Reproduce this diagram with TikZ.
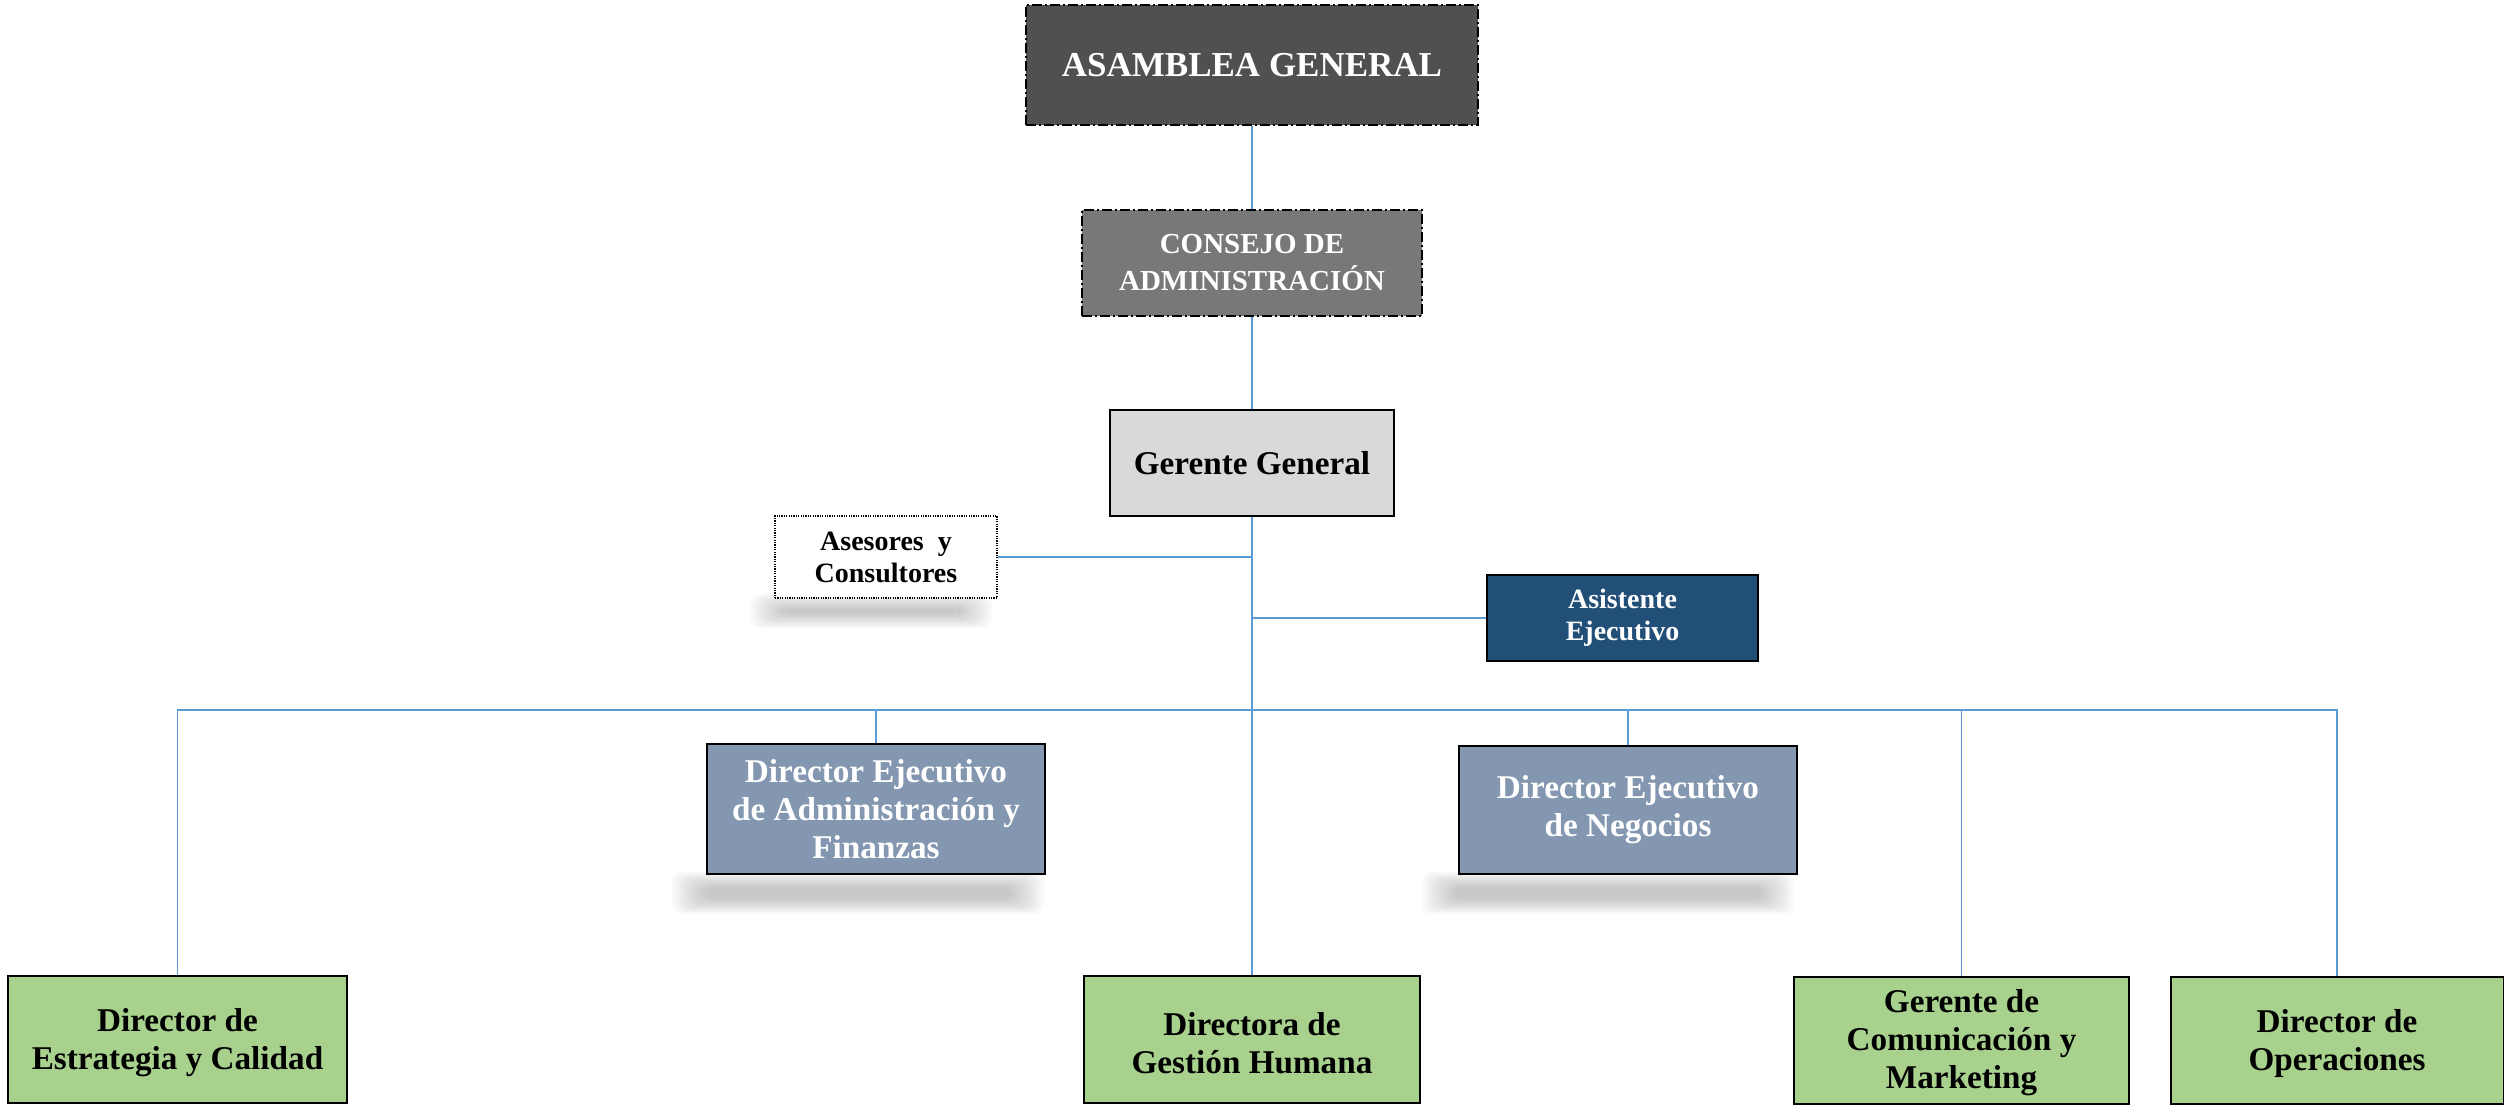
\documentclass[tikz,border=0pt]{standalone}
\usepackage{fontspec}
\setmainfont{Liberation Serif}
\definecolor{lineblue}{HTML}{5B9BD5}
\definecolor{agfill}{HTML}{505050}
\definecolor{cafill}{HTML}{787878}
\definecolor{ggfill}{HTML}{D9D9D9}
\definecolor{asfill}{HTML}{214F78}
\definecolor{defill}{HTML}{8497B0}
\definecolor{grfill}{HTML}{A9D18E}
\newcommand\softdrop[4]{%
  \foreach \k in {0,...,9}{%
    \fill[black,opacity=0.022,rounded corners=5pt] ({#1+\k*3.5},{#2+\k*1.6}) rectangle ({#3-\k*3.5},{#4-\k*1.6});}}
\begin{document}
\begin{tikzpicture}[x=0.5pt,y=-0.5pt,
  box/.style={draw=black, line width=1pt, inner sep=0pt, align=center},
  dashdotbox/.style={box, dash pattern=on 5pt off 1.5pt on 1pt off 1.5pt},
  dotbox/.style={box, line width=0.6pt, dash pattern=on 0.6pt off 0.6pt},
  conn/.style={draw=lineblue, line width=0.8pt},
  bigtxt/.style={font=\bfseries\fontsize{16.6}{19}\selectfont},
  smalltxt/.style={font=\bfseries\fontsize{14}{16}\selectfont},
  greenbox/.style={box, fill=grfill, bigtxt, minimum width=168pt, minimum height=63.5pt},
  bluebox/.style={box, fill=defill, text=white, bigtxt, minimum width=169pt, minimum height=65pt}
]
\useasboundingbox (0,0) rectangle (2504,1104);

% shadows
\softdrop{750}{594}{992}{628}
\softdrop{672}{872}{1044}{914}
\softdrop{1422}{872}{1794}{914}

% nodes
\node[dashdotbox, fill=agfill, text=white, minimum width=226pt, minimum height=60pt,
      font=\bfseries\fontsize{17.5}{20}\selectfont] (ag) at (1252,65) {ASAMBLEA GENERAL};
\node[dashdotbox, fill=cafill, text=white, minimum width=170pt, minimum height=53pt,
      font=\bfseries\fontsize{14.5}{18.5}\selectfont] (ca) at (1252,263) {CONSEJO DE\\ADMINISTRACIÓN};
\node[box, fill=ggfill, minimum width=142pt, minimum height=53pt, bigtxt] (gg) at (1252,463) {Gerente General};
\node[dotbox, fill=white, minimum width=111pt, minimum height=41pt, smalltxt] (asesor) at (886,557) {Asesores~~y\\Consultores};
\node[box, fill=asfill, text=white, minimum width=135.5pt, minimum height=43pt, smalltxt] (asist) at (1622.5,618) {Asistente\\Ejecutivo};
\node[bluebox] (deaf) at (876,809) {Director Ejecutivo\\de Administración y\\Finanzas};
\node[bluebox, minimum height=64pt] (den) at (1628,810) {Director Ejecutivo\\de Negocios};
\node[greenbox, minimum width=169.5pt] (es) at (177.5,1039.5) {\rule{0pt}{15pt}Director de\\Estrategia y Calidad};
\node[greenbox] (gh) at (1252,1039.5) {\rule{0pt}{15pt}Directora de\\Gestión Humana};
\node[greenbox, minimum width=167.5pt] (gc) at (1961.5,1040) {\rule{0pt}{14pt}Gerente de\\Comunicación y\\Marketing};
\node[greenbox, minimum width=166.5pt] (op) at (2337,1040) {\rule{0pt}{15pt}Director de\\Operaciones};

\coordinate (bus) at (1252,710);

% connectors
\draw[conn] (ag.south) -- (ca.north);
\draw[conn] (ca.south) -- (gg.north);
\draw[conn] (gg.south) -- (gh.north);
\draw[conn] (asesor.east) -- (asesor.east -| gg.south);
\draw[conn] (asist.west) -- (asist.west -| gg.south);
\draw[conn] (es.north) -- (es.north |- bus) -- (op.north |- bus) -- (op.north);
\draw[conn] (deaf.north) -- (deaf.north |- bus);
\draw[conn] (den.north) -- (den.north |- bus);
\draw[conn] (gc.north) -- (gc.north |- bus);
\end{tikzpicture}
\end{document}
